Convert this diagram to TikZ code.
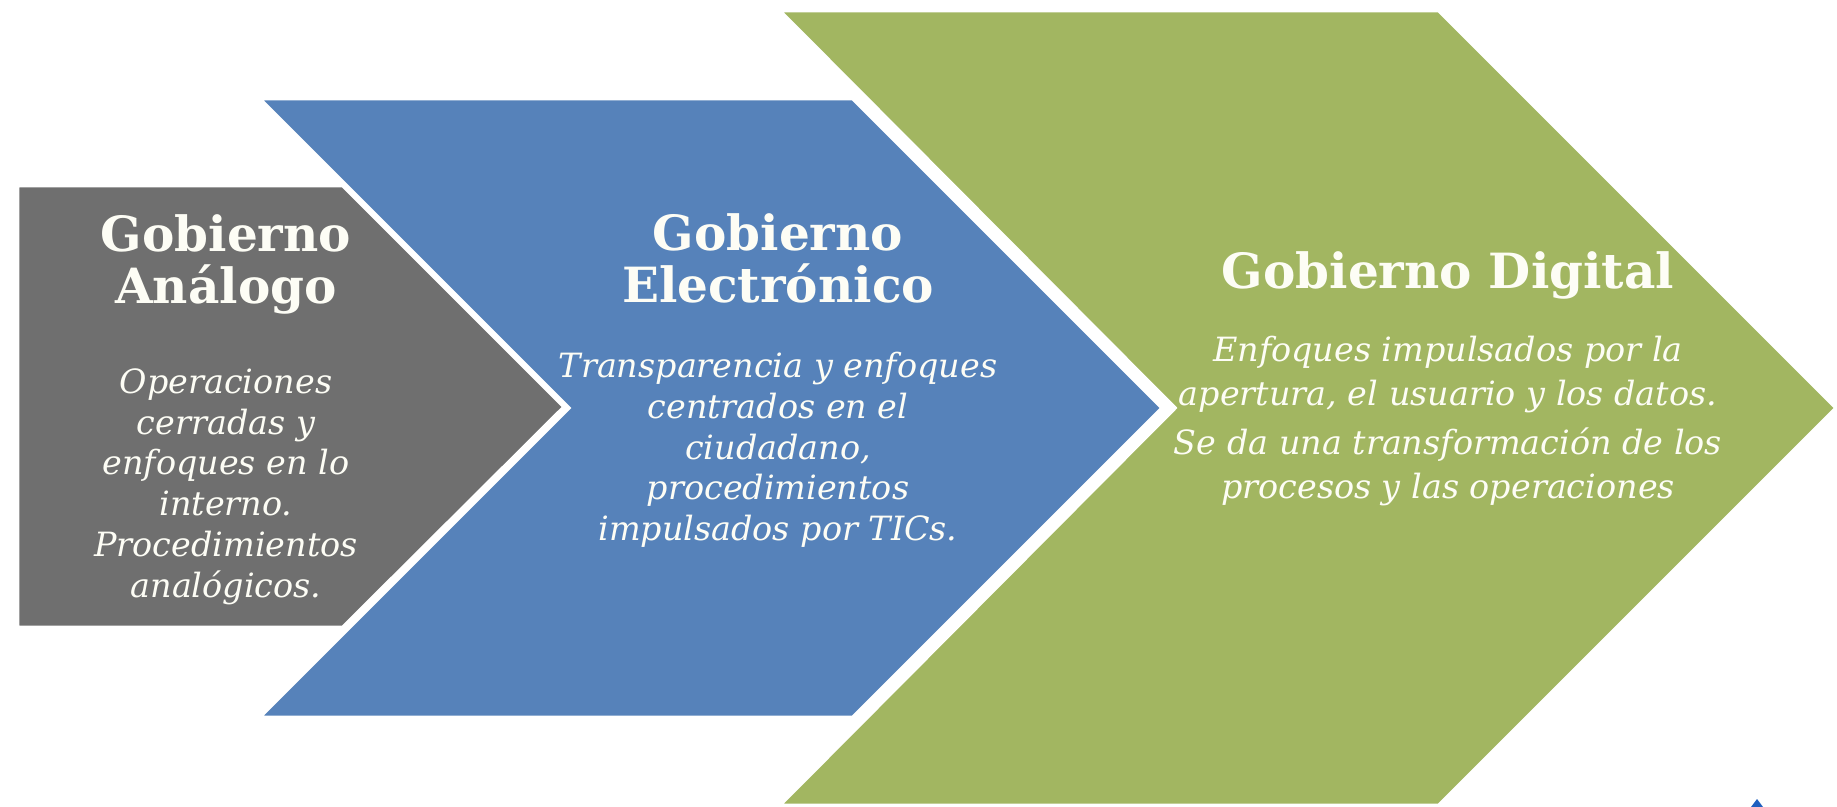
\documentclass[tikz,border=0pt]{standalone}
\usepackage{fontspec}
\setmainfont{DejaVu Serif}
\usetikzlibrary{positioning}

\definecolor{grisA}{HTML}{6F6F6F}
\definecolor{azulE}{HTML}{5682BA}
\definecolor{verdeD}{HTML}{A2B661}
\definecolor{texto}{HTML}{FDFDF5}
\definecolor{azulLogo}{HTML}{1F5FBF}

\begin{document}
\begin{tikzpicture}[x=0.01cm,y=-0.01cm,node distance=10pt]
\tikzstyle{chevron}=[draw=white,line width=1.4pt,line join=miter]
\tikzstyle{titulo}=[text=texto,align=center,inner sep=0pt,font=\fontsize{13.8}{14.8}\selectfont\bfseries]
\tikzstyle{cuerpo}=[text=texto,align=center,inner sep=0pt,font=\fontsize{9.5}{11.6}\selectfont\itshape]
\useasboundingbox (0,0) rectangle (1837,807);
% las tres flechas
\path[chevron,fill=verdeD] (778,10) -- (1439,10) -- (1837,408) -- (1439,806) -- (778,806) -- (1174,408) -- cycle;
\path[chevron,fill=azulE] (258,98) -- (853,98) -- (1163,408) -- (853,718) -- (258,718) -- (568,408) -- cycle;
\path[chevron,fill=grisA] (17,185) -- (343,185) -- (565,407) -- (343,628) -- (17,628) -- cycle;
\fill[azulLogo] (1751,807) -- (1757,799) -- (1763,807) -- cycle;

\node[titulo,anchor=north] (ana) at (226,214) {Gobierno\\Análogo};
\node[cuerpo,below=15pt of ana] (anatxt) {Operaciones\\cerradas y\\enfoques en lo\\interno.\\Procedimientos\\analógicos.};

\node[titulo,anchor=north] (ele) at (778,213) {Gobierno\\Electrónico};
\node[cuerpo,below=13.5pt of ele] (eletxt) {Transparencia y enfoques\\centrados en el\\ciudadano,\\procedimientos\\impulsados por TICs.};

\node[titulo,anchor=north] (dig) at (1448,251) {Gobierno Digital};
\node[cuerpo,below=10pt of dig,font=\fontsize{9.5}{12.5}\selectfont\itshape] (digtxt) {Enfoques impulsados por la\\apertura, el usuario y los datos.\\[1.4pt]Se da una transformación de los\\procesos y las operaciones};
\end{tikzpicture}
\end{document}
